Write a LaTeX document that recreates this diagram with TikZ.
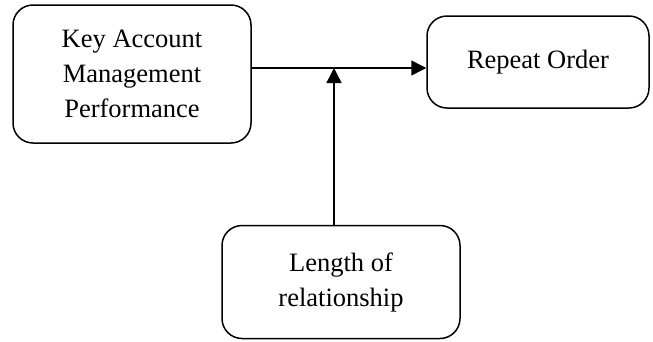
\documentclass[tikz,border=0pt]{standalone}
\usepackage{fontspec}
\setmainfont{Liberation Serif}
\usetikzlibrary{arrows.meta}
\begin{document}
\begin{tikzpicture}[x=1pt,y=-1pt,
  factor/.style={draw,rounded corners=20pt,line width=1.5pt,align=center,
    inner sep=0pt,font=\fontsize{26.5}{35}\selectfont},
  link/.style={line width=1.5pt,-{Triangle[length=15pt,width=15pt]}}]
\useasboundingbox (0,0) rectangle (653,341);
\node[factor,minimum width=238pt,minimum height=138pt] (kam) at (132,74)
  {Key Account\\Management\\Performance};
\node[factor,minimum width=222pt,minimum height=92pt] (ro) at (538,62)
  {Repeat Order};
\node[factor,minimum width=238pt,minimum height=113pt] (lr) at (341,282)
  {Length of\\relationship};
\coordinate (j) at (334,68);
\draw[link] (j -| kam.east) -- (j -| ro.west);
\draw[link] (j |- lr.north) -- (j);
\end{tikzpicture}
\end{document}
